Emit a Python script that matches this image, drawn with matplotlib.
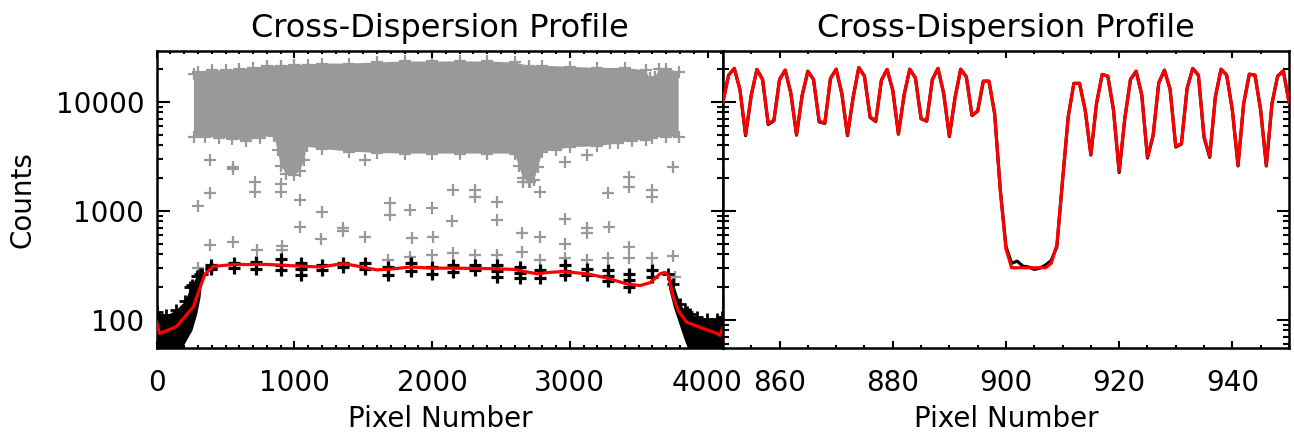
import numpy as np
import matplotlib
matplotlib.use("Agg")
import matplotlib.pyplot as plt
from matplotlib.ticker import FixedLocator, MultipleLocator, LogLocator, NullFormatter

plt.rcParams['font.family'] = ['DejaVu Sans']

# ---------------- data ----------------
# Left panel: gray cloud of high-count pixels (envelope)
cloud_top_x = [270, 300, 400, 500, 600, 700, 800, 900, 1000, 1100, 1200, 1400, 1600, 1800,
               2000, 2200, 2400, 2600, 2700, 2800, 3000, 3200, 3400, 3550, 3580, 3620, 3650,
               3700, 3790]
cloud_top_y = [18000, 19000, 19500, 19500, 20000, 20500, 21500, 21500, 22000, 22000, 22500,
               22500, 23000, 23500, 23500, 23500, 23500, 23000, 21500, 21500, 21000, 20500,
               20500, 19500, 16500, 17000, 20000, 20000, 19000]
cloud_bot_x = [270, 350, 450, 550, 650, 750, 850, 880, 900, 940, 1000, 1040, 1070, 1090, 1200,
               1400, 1600, 1800, 2000, 2200, 2400, 2600, 2630, 2660, 2700, 2740, 2770, 2800,
               2900, 3000, 3200, 3350, 3450, 3550, 3600, 3700, 3790]
cloud_bot_y = [4800, 4800, 4700, 4600, 4400, 4700, 4900, 3600, 2600, 2200, 2150, 2300, 2900,
               3900, 3700, 3500, 3400, 3350, 3350, 3350, 3350, 3350, 2600, 2000, 1850, 1900,
               2500, 3500, 3600, 3850, 3900, 4200, 4400, 4500, 4700, 4800, 4800]

# Left panel: isolated gray pluses
gray_x = [298, 387, 387, 556, 556, 714, 714, 903, 903, 1041, 1041, 1198, 1193, 1355, 1355, 1513,
          1513, 1694, 1694, 1840, 1852, 1997, 2009, 2154, 2147, 2311, 2311, 2469, 2469, 2660,
          2709, 2651, 2784, 2784, 2965, 2965, 2965, 3123, 3123, 3123, 3280, 3287, 3292, 3432,
          3432, 3432, 3432, 3595, 3595, 3595, 3752, 3752, 3764,
          387, 556, 726, 907, 907, 302, 1683, 1840, 1997, 2154, 2311, 2469, 2651, 2784, 2965,
          3123, 3280]
gray_y = [1110, 2920, 1445, 2535, 2400, 1845, 1495, 1750, 1500, 1253, 713, 980, 550, 690, 650,
          2920, 578, 1170, 914, 1015, 558, 1052, 578, 1548, 805, 1548, 1343, 1210, 822, 1850,
          1850, 630, 578, 1495, 2815, 850, 495, 3245, 690, 620, 1445, 713, 4150, 2050,
          1660, 467, 366, 1548, 1343, 366, 2535, 384, 245,
          484, 520, 436, 480, 436, 296, 355, 380, 395, 410, 395, 390, 421, 355, 366,
          355, 366]

# Left panel: black pluses (background pixels)
black_x = [392, 392, 392, 564, 564, 721, 721, 903, 903, 903, 1049, 1049, 1049, 1198, 1198,
           1355, 1355, 1513, 1513, 1682, 1682, 1845, 1845, 1997, 1997, 2154, 2154, 2311, 2311,
           2469, 2469, 2469, 2638, 2638, 2638, 2784, 2784, 2965, 2965, 2965, 3123, 3123,
           3280, 3280, 3280, 3432, 3432, 3432, 3595, 3595]
black_y = [320, 290, 300, 330, 300, 340, 290, 360, 320, 285, 330, 290, 255, 320, 285,
           330, 305, 330, 290, 305, 260, 330, 280, 305, 265, 315, 275, 315, 285,
           315, 280, 245, 305, 270, 240, 285, 240, 315, 280, 255, 295, 255,
           285, 250, 225, 265, 230, 200, 285, 245]

# Left panel: dense black bands at both detector edges (envelopes)
band1_x = [0, 70, 141, 206, 242, 254, 290, 315, 327]
band1_top = [117, 110, 124, 150, 198, 210, 254, 263, 263]
band1_bot = [45, 45, 45, 62, 75, 79, 113, 162, 245]
band2_x = [3716, 3752, 3800, 3836, 3848, 3872, 3921, 3993, 4067, 4103, 4112]
band2_top = [264, 213, 140, 122, 117, 112, 105, 101, 101, 105, 105]
band2_bot = [198, 131, 86, 63, 58, 45, 45, 45, 45, 45, 45]

# Left panel: red fit
fit_x = [0, 20, 60, 100, 145, 200, 240, 266, 300, 315, 351, 411, 556, 800, 1049, 1193, 1355,
         1450, 1598, 1700, 1845, 2010, 2100, 2400, 2590, 2760, 2850, 2953, 3123, 3268, 3413,
         3510, 3583, 3655, 3691, 3716, 3752, 3788, 3848, 3970, 4067, 4091, 4112]
fit_y = [95, 75, 78, 82, 87, 105, 120, 131, 175, 198, 263, 309, 321, 322, 310, 305, 328,
         312, 287, 292, 305, 297, 298, 295, 290, 264, 272, 277, 264, 242, 213,
         206, 219, 264, 272, 255, 161, 121, 95, 83, 75, 72, 85]

# Right panel: zoomed profile, pixels 850..950
zoom_pix = list(range(850, 951))
zoom_red = [10000, 17600, 20300, 13000, 5010, 11530, 19850, 16070, 6330, 6790,
            16070, 19560, 11940, 5010, 11530, 19130, 16070, 6650, 6420, 16400,
            19950, 11940, 4940, 11000, 20700, 17230, 7290, 6690, 15840, 19850,
            12800, 5120, 11530, 19950, 16630, 7030, 6690, 16070, 20300, 11940,
            4870, 10900, 19950, 17000, 7550, 8270, 15500, 15500, 7820, 1540,
            448, 300, 300, 300, 300, 300, 300, 300, 330, 490,
            1900, 7290, 14800, 14800, 8400, 3300, 9660, 17870, 17230, 8400,
            2320, 7030, 16070, 19130, 11530, 3120, 4940, 14960, 19560, 13000,
            3920, 4150, 13270, 20300, 17600, 4770, 3170, 11120, 19950, 17600,
            8400, 2620, 9660, 17970, 17600, 8400, 2620, 9660, 17230, 19300,
            10000]
zoom_black = [10000, 17600, 20300, 13000, 4900, 11530, 19850, 16070, 6200, 6700,
              16070, 19560, 11940, 4950, 11530, 19130, 16070, 6550, 6350, 16400,
              19950, 11940, 4900, 11000, 20700, 17230, 7200, 6600, 15840, 19850,
              12800, 5050, 11530, 19950, 16630, 7000, 6650, 16070, 20300, 11940,
              4800, 10900, 19950, 17000, 7500, 8200, 15500, 15500, 7800, 1560,
              470, 330, 345, 310, 305, 290, 298, 318, 350, 470,
              1900, 7290, 14800, 14800, 8400, 3250, 9660, 17870, 17230, 8400,
              2250, 7030, 16070, 19130, 11530, 3050, 4900, 14960, 19560, 13000,
              3850, 4100, 13270, 20300, 17600, 4700, 3100, 11120, 19950, 17600,
              8400, 2580, 9660, 17970, 17600, 8400, 2580, 9660, 17230, 19300,
              10000]

left_xticks = [0, 1000, 2000, 3000, 4000]
right_xticks = [860, 880, 900, 920, 940]
y_ticks = [100, 1000, 10000]
title_text = "Cross-Dispersion Profile"

# ---------------- figure ----------------
fig = plt.figure(figsize=(12.94, 4.32), dpi=100)
ax1 = fig.add_axes([0.1211, 0.1944, 0.4376, 0.6882])
ax2 = fig.add_axes([0.5587, 0.1944, 0.4374, 0.6882])

YMIN, YMAX = 55, 29500
GRAY = '#999999'

# gray cloud
poly_x = np.concatenate([cloud_top_x, cloud_bot_x[::-1]])
poly_y = np.concatenate([cloud_top_y, cloud_bot_y[::-1]])
ax1.fill(poly_x, poly_y, color=GRAY, lw=0, zorder=1)
ax1.plot(cloud_top_x, cloud_top_y, '+', color=GRAY, ms=9, mew=1.6, zorder=1)
ax1.plot(cloud_bot_x, cloud_bot_y, '+', color=GRAY, ms=9, mew=1.6, zorder=1)
ax1.plot(gray_x, gray_y, '+', color=GRAY, ms=9, mew=1.6, zorder=2)

# black bands and pluses
ax1.fill_between(band1_x, band1_bot, band1_top, color='black', lw=0, zorder=3)
ax1.plot(band1_x, band1_top, '+', color='black', ms=8, mew=2, zorder=3)
ax1.fill_between(band2_x, band2_bot, band2_top, color='black', lw=0, zorder=3)
ax1.plot(band2_x, band2_top, '+', color='black', ms=8, mew=2, zorder=3)
ax1.plot(black_x, black_y, '+', color='black', ms=9, mew=2.3, zorder=3)

# red fit
ax1.plot(fit_x, fit_y, '-', color='red', lw=2.3, zorder=4)

# right panel
ax2.plot(zoom_pix, zoom_black, '-', color='black', lw=2.3, zorder=2)
ax2.plot(zoom_pix, zoom_red, '-', color='red', lw=2.3, zorder=3)

for ax in (ax1, ax2):
    ax.set_yscale('log')
    ax.set_ylim(YMIN, YMAX)
    ax.set_title(title_text, fontsize=23, pad=10)
    ax.set_xlabel("Pixel Number", fontsize=20, labelpad=6)
    for sp in ax.spines.values():
        sp.set_linewidth(1.8)
    ax.yaxis.set_major_locator(FixedLocator(y_ticks))
    ax.yaxis.set_minor_locator(LogLocator(base=10, subs=range(2, 10)))
    ax.yaxis.set_minor_formatter(NullFormatter())
    ax.tick_params(axis='both', which='both', direction='in', top=True, right=True, width=1.5)
    ax.tick_params(axis='x', which='major', length=5, labelsize=20, pad=15)
    ax.tick_params(axis='x', which='minor', length=2.5)
    ax.tick_params(axis='y', which='major', length=9, labelsize=20, pad=9)
    ax.tick_params(axis='y', which='minor', length=4.5)

ax1.set_xlim(0, 4112)
ax1.xaxis.set_major_locator(FixedLocator(left_xticks))
ax1.xaxis.set_minor_locator(MultipleLocator(100))
ax1.set_yticklabels([str(v) for v in y_ticks])
ax1.set_ylabel("Counts", fontsize=20, labelpad=14)

ax2.set_xlim(850, 950)
ax2.xaxis.set_major_locator(FixedLocator(right_xticks))
ax2.xaxis.set_minor_locator(MultipleLocator(5))
ax2.tick_params(axis='y', which='both', labelleft=False)

fig.savefig("out.png", dpi=100)
